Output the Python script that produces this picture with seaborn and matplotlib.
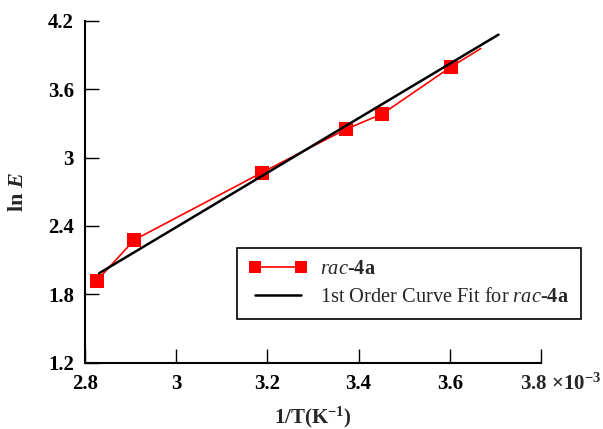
import numpy as np
import seaborn as sns
import matplotlib.pyplot as plt

# 1/T in units of 1e-3 K^-1, and ln E
inv_t = [2.826, 2.908, 3.188, 3.372, 3.452, 3.602, 3.668]
ln_e = [1.921, 2.278, 2.868, 3.248, 3.382, 3.792, 3.955]
fit_x = [2.831, 3.707]
fit_y = [1.986, 4.077]

x_ticks = [2.8, 3.0, 3.2, 3.4, 3.6, 3.8]
x_labels = ['2.8', '3', '3.2', '3.4', '3.6', '']
y_ticks = [1.2, 1.8, 2.4, 3.0, 3.6, 4.2]
y_labels = ['1.2', '1.8', '2.4', '3', '3.6', '4.2']

sns.set_style('ticks')
plt.rcParams['font.family'] = ['Liberation Serif', 'DejaVu Serif']
plt.rcParams['mathtext.fontset'] = 'custom'
plt.rcParams['mathtext.rm'] = 'Liberation Serif'
plt.rcParams['mathtext.it'] = 'Liberation Serif:italic'
plt.rcParams['mathtext.bf'] = 'Liberation Serif:bold'
plt.rcParams['mathtext.bfit'] = 'Liberation Serif:italic:bold'

fig = plt.figure(figsize=(6.03, 4.29), dpi=100)
ax = fig.add_axes([0.141, 0.154, 0.756, 0.798])

sns.lineplot(x=inv_t, y=ln_e, ax=ax, color='#ff0000', lw=1.2, marker='s',
             markersize=10, markeredgewidth=0, markevery=list(range(6)),
             sort=False, label=r'$\mathit{rac}$-$\mathbf{4a}$')
sns.lineplot(x=fit_x, y=fit_y, ax=ax, color='k', lw=1.8, sort=False,
             label=r'1st Order Curve Fit for $\mathit{rac}$-$\mathbf{4a}$')

ax.set_xlim(2.8, 3.8)
ax.set_ylim(1.2, 4.2)
ax.set_xticks(x_ticks)
ax.set_xticklabels(x_labels, fontweight='bold')
ax.set_yticks(y_ticks)
ax.set_yticklabels(y_labels, fontweight='bold')
ax.tick_params(direction='in', length=10, width=1, labelsize=15, colors='k')
ax.tick_params(axis='x', pad=8)
ax.tick_params(axis='y', pad=8)
ax.spines['right'].set_visible(False)
ax.spines['top'].set_visible(False)
for s in ['left', 'bottom']:
    ax.spines[s].set_color('k')
    ax.spines[s].set_linewidth(1.5)

ax.set_xlabel(r'1/T(K$^{\mathbf{-1}}$)', fontsize=15, fontweight='bold', labelpad=8)
ax.set_ylabel(r'ln $\mathbfit{E}$', fontsize=16, fontweight='bold', labelpad=14)
# last x tick label carries the scale factor
ax.annotate(r'3.8 ×10$^{\mathbf{-3}}$', xy=(3.8, 1.2), xycoords='data',
            xytext=(-15, -15.5), textcoords='offset points', ha='left', va='center',
            fontsize=15, fontweight='bold')

leg = ax.legend(loc='upper left', bbox_to_anchor=(0.3336, 0.336), fontsize=14.7,
                frameon=True, fancybox=False, edgecolor='k', framealpha=1,
                numpoints=2, markerscale=0.8, handlelength=2.85,
                handletextpad=0.6, borderpad=0.6, labelspacing=0.4,
                borderaxespad=0)
leg.get_frame().set_linewidth(1.2)

fig.savefig('out.png', dpi=100)
